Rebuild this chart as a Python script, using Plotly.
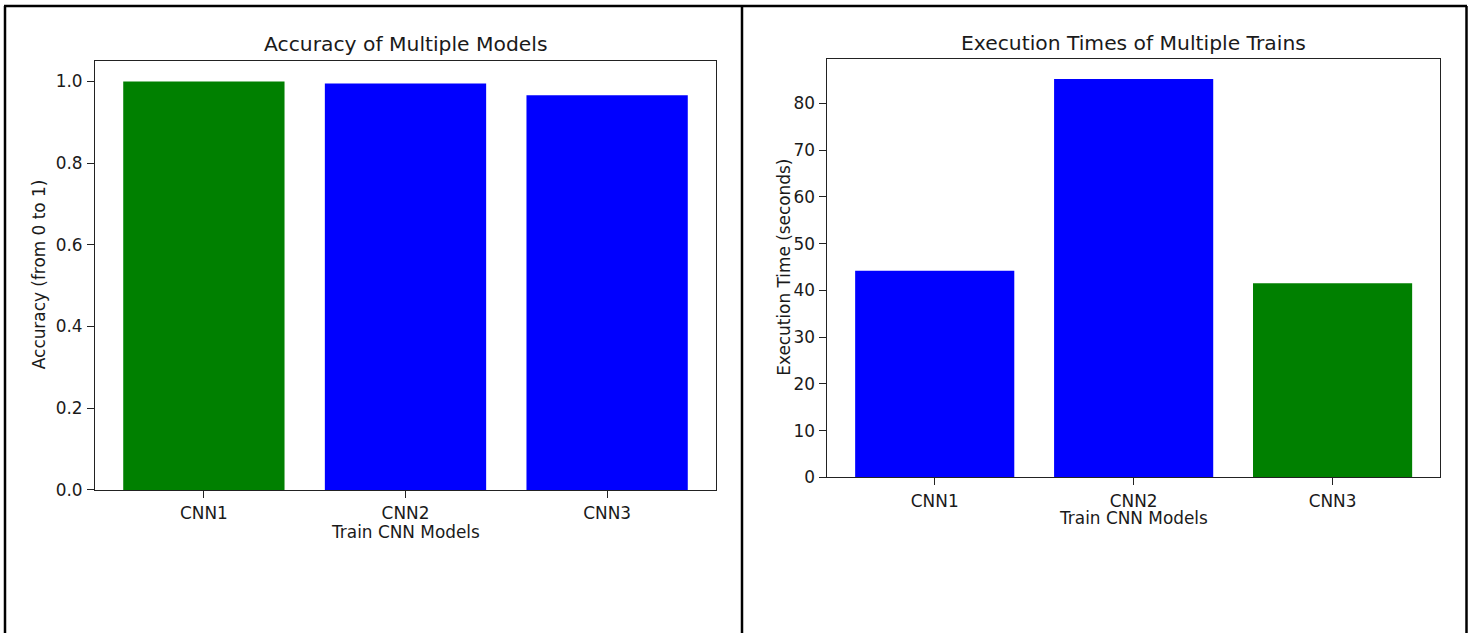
import plotly.graph_objects as go

W, H = 1468, 643

models = ["CNN1", "CNN2", "CNN3"]
accuracy = [0.9995, 0.995, 0.966]
accuracy_colors = ["green", "blue", "blue"]
exec_times = [44.2, 85.2, 41.5]
exec_colors = ["blue", "blue", "green"]

FONT = "DejaVu Sans"
TXT = "#1a1a1a"
TICK_SIZE = 16.9
TITLE_SIZE = 20.3


def px(x):
    return x / W


def py(y):
    return 1 - y / H


fig = go.Figure()
fig.add_trace(go.Bar(x=models, y=accuracy, marker=dict(color=accuracy_colors, line=dict(width=0)),
                     width=0.8, xaxis="x", yaxis="y", showlegend=False))
fig.add_trace(go.Bar(x=models, y=exec_times, marker=dict(color=exec_colors, line=dict(width=0)),
                     width=0.8, xaxis="x2", yaxis="y2", showlegend=False))

axis_common = dict(showline=True, mirror=True, linecolor="#222", linewidth=1,
                   ticks="outside", ticklen=7, tickwidth=1, tickcolor="#222",
                   ticklabelstandoff=1,
                   showgrid=False, zeroline=False,
                   tickfont=dict(family=FONT, size=TICK_SIZE, color=TXT), fixedrange=True)

fig.update_layout(
    width=W, height=H,
    margin=dict(l=0, r=0, t=0, b=0),
    paper_bgcolor="white", plot_bgcolor="white",
    hovermode=False,
    xaxis=dict(domain=[px(95), px(716)], anchor="y", type="category",
               range=[-0.54, 2.54], **axis_common),
    yaxis=dict(domain=[py(497.7), py(62)], anchor="x", range=[0, 1.0497],
               tickvals=[0, 0.2, 0.4, 0.6, 0.8, 1.0], tickformat=".1f", **axis_common),
    xaxis2=dict(domain=[px(827.3), px(1440)], anchor="y2", type="category",
                range=[-0.54, 2.54], **axis_common),
    yaxis2=dict(domain=[py(485), py(60)], anchor="x2", range=[0, 89.46],
                tickvals=[0, 10, 20, 30, 40, 50, 60, 70, 80], **axis_common),
)

annots = [
    dict(text="Accuracy of Multiple Models", x=405.5, y=45, size=TITLE_SIZE, angle=0),
    dict(text="Execution Times of Multiple Trains", x=1133.7, y=44, size=TITLE_SIZE, angle=0),
    dict(text="Train CNN Models", x=405.5, y=540, size=TICK_SIZE, angle=0),
    dict(text="Train CNN Models", x=1133.7, y=526, size=TICK_SIZE, angle=0),
    dict(text="Accuracy (from 0 to 1)", x=38.5, y=279, size=TICK_SIZE, angle=-90),
    dict(text="Execution Time (seconds)", x=784, y=272, size=TICK_SIZE, angle=-90),
]
for a in annots:
    fig.add_annotation(text=a["text"], x=px(a["x"]), y=py(a["y"]), xref="paper", yref="paper",
                       xanchor="center", yanchor="middle", showarrow=False, textangle=a["angle"],
                       font=dict(family=FONT, size=a["size"], color=TXT))

border = dict(color="black", width=2.5)
for x0, y0, x1, y1 in [(4, 6, 1467, 6), (5, 6, 5, 643), (742, 6, 742, 643), (1466.5, 6, 1466.5, 643)]:
    fig.add_shape(type="line", xref="paper", yref="paper",
                  x0=px(x0), y0=py(y0), x1=px(x1), y1=py(y1), line=border)

fig.write_html(
    "out.html",
    config={"displayModeBar": False, "staticPlot": True},
    post_script="document.body.style.margin='0';document.body.style.overflow='hidden';",
)
